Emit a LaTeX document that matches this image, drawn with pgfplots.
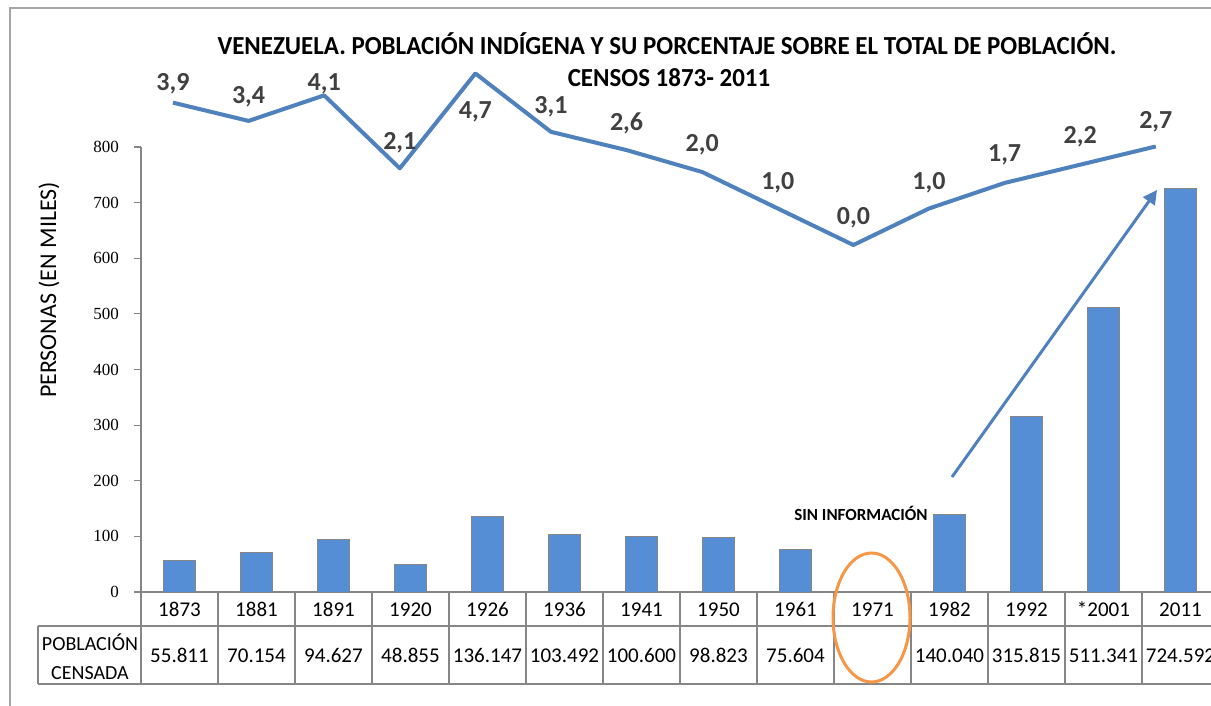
\documentclass[border=0pt]{standalone}
\usepackage{fontspec}
\setmainfont{Carlito}
\newfontfamily\numserif{Liberation Serif}
\usepackage{pgfplots}
\usepackage{pgfplotstable}
\pgfplotsset{compat=1.18}
\usetikzlibrary{arrows.meta}
\definecolor{barblue}{RGB}{85,142,213}
\definecolor{lineblue}{RGB}{79,129,189}
\definecolor{lblgray}{RGB}{64,64,64}
\definecolor{gridgray}{RGB}{134,134,134}
\definecolor{framegray}{RGB}{165,165,165}
\definecolor{circorange}{RGB}{247,150,70}

% Poblacion indigena censada (miles)
\pgfplotstableread{
x y
0 55.811
1 70.154
2 94.627
3 48.855
4 136.147
5 103.492
6 100.600
7 98.823
8 75.604
10 140.040
11 315.815
12 511.341
13 724.592
}\poblacion

% Porcentaje sobre el total de poblacion
\pgfplotstableread{
x p
0 3.9
1 3.4
2 4.1
3 2.1
4 4.7
5 3.1
6 2.6
7 2.0
8 1.0
9 0.0
10 1.0
11 1.7
12 2.2
13 2.7
}\porcentaje

% label positions for percentages
\pgfplotstableread{
x y lab
0 4.438 3,9
1 4.055 3,4
2 4.438 4,1
3 2.795 2,1
4 3.644 4,7
5 3.781 3,1
6 3.342 2,6
7 2.740 2,0
8 1.726 1,0
9 0.767 0,0
10 1.726 1,0
11 2.493 1,7
12 2.959 2,2
13 3.370 2,7
}\pctlabels

% table values
\pgfplotstableread{
x y lab
0 -115 55.811
1 -115 70.154
2 -115 94.627
3 -115 48.855
4 -115 136.147
5 -115 103.492
6 -115 100.600
7 -115 98.823
8 -115 75.604
10 -115 140.040
11 -115 315.815
12 -115 511.341
13 -115 724.592
}\valtab

\begin{document}
\begin{tikzpicture}
\begin{scope}[x=0.5pt,y=-0.5pt]
\fill[white] (0,0) rectangle (1211,706);
\draw[framegray, line width=0.6pt] (1230,8) -- (10,8) -- (10,720);
\end{scope}

\begin{axis}[
 at={(70.5pt,-296pt)}, anchor=south west,
 scale only axis, width=539pt, height=222.5pt,
 xmin=-0.5, xmax=13.5, ymin=0, ymax=800,
 axis lines*=left,
 axis line style={draw=gridgray, line width=0.6pt, -},
 ytick={0,100,...,800},
 ytick style={draw=gridgray, line width=0.6pt},
 tick align=outside, major tick length=3.5pt,
 yticklabel style={font=\numserif\fontsize{8.5}{10}\selectfont, xshift=-4pt},
 /pgf/number format/assume math mode=true,
 xtick={0,...,13},
 xticklabels={1873,1881,1891,1920,1926,1936,1941,1950,1961,1971,1982,1992,*2001,2011},
 xtick style={draw=none},
 xticklabel style={font=\fontsize{10.5}{12}\selectfont, anchor=center, text height=7pt, text depth=0pt, yshift=-5pt},
 clip=false,
]
\addplot[ybar, bar width=16pt, bar shift=0pt, fill=barblue, draw=gridgray, line width=0.5pt] table[x=x,y=y] {\poblacion};

\addplot[draw=none, mark=none, nodes near coords, point meta=explicit symbolic,
  every node near coord/.append style={anchor=center, text height=7pt, text depth=0pt, font=\fontsize{10.5}{12}\selectfont, text=black}]
  table[x=x,y=y,meta=lab] {\valtab};

% data table grid
\pgfplotsinvokeforeach{-0.5,0.5,...,13.5}{
  \draw[gridgray, line width=0.6pt] (axis cs:#1,0) -- (axis cs:#1,-165.4);
}
\draw[gridgray, line width=0.6pt] (axis cs:-1.838,-61.1) -- (axis cs:13.6,-61.1);
\draw[gridgray, line width=0.6pt] (axis cs:-1.838,-165.4) -- (axis cs:13.6,-165.4);
\draw[gridgray, line width=0.6pt] (axis cs:-1.838,-61.1) -- (axis cs:-1.838,-165.4);
\end{axis}

\begin{axis}[
 at={(70.5pt,-296pt)}, anchor=south west,
 scale only axis, width=539pt, height=222.5pt,
 xmin=-0.423, xmax=13.836, ymin=-9.507, ymax=2.685,
 hide axis, clip=false,
]
\addplot[lineblue, line width=2pt, mark=none, line join=round] table[x=x,y=p] {\porcentaje};
\addplot[draw=none, mark=none, nodes near coords, point meta=explicit symbolic,
  every node near coord/.append style={anchor=center, text height=8.5pt, text depth=1.5pt, font=\bfseries\fontsize{13}{15}\selectfont, text=lblgray}]
  table[x=x,y=y,meta=lab] {\pctlabels};
\end{axis}

\begin{scope}[x=0.5pt,y=-0.5pt]
\node[font=\bfseries\fontsize{13}{15}\selectfont] at (667,44) {\scalebox{0.96}[1]{VENEZUELA. POBLACIÓN INDÍGENA Y SU PORCENTAJE SOBRE EL TOTAL DE POBLACIÓN.}};
\node[font=\bfseries\fontsize{13}{15}\selectfont] at (669,78) {\scalebox{0.96}[1]{CENSOS 1873- 2011}};
\node[rotate=90, font=\fontsize{12}{14}\selectfont] at (49,290) {PERSONAS (EN MILES)};
\node[align=center, font=\fontsize{10}{14.5}\selectfont] at (90,657) {POBLACIÓN\\CENSADA};
\node[font=\bfseries\fontsize{8.5}{10}\selectfont] at (861,513) {SIN INFORMACIÓN};
\draw[circorange, line width=1.5pt] (871.5,617.5) ellipse [x radius=19.25pt, y radius=32.25pt];
\draw[lineblue, line width=1.5pt, -{Triangle[length=7pt,width=7pt]}] (952,477) -- (1157,190);
\end{scope}
\pgfresetboundingbox
\path[use as bounding box] (0,0) rectangle (605.5pt,-353pt);
\end{tikzpicture}
\end{document}
